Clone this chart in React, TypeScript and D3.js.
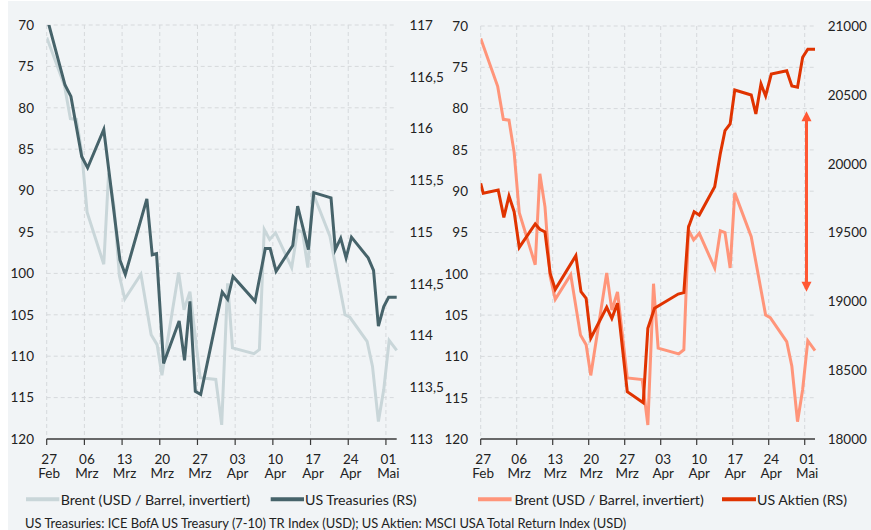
import React from "react";
import * as d3 from "d3";

// ---- Data (day offsets since 27 Feb 2025) ----
const tickDays = [0, 7, 14, 21, 28, 35, 42, 49, 56, 63];
const tickDayLabels = ["27", "06", "13", "20", "27", "03", "10", "17", "24", "01"];
const tickMonthLabels = ["Feb", "Mrz", "Mrz", "Mrz", "Mrz", "Apr", "Apr", "Apr", "Apr", "Mai"];

const brentTicks = [70, 75, 80, 85, 90, 95, 100, 105, 110, 115, 120];
const treasuryTicks = [113, 113.5, 114, 114.5, 115, 115.5, 116, 116.5, 117];
const aktienTicks = [18000, 18500, 19000, 19500, 20000, 20500, 21000];

const brentDays = [0, 3.3, 4.4, 5.5, 6.5, 7.5, 10.6, 11.5, 12.5, 13.5, 14.5, 17.5, 19.4, 20.5, 21.4, 24.5, 25.5, 26.6, 28.5, 31.4, 32.5, 33.6, 34.5, 38.5, 39.5, 40.4, 41.4, 42.5, 45.5, 46.6, 47.5, 48.5, 49.4, 52.6, 55.4, 56.3, 59.5, 60.5, 61.6, 62.6, 63.6, 65];
const brentValues = [71.5, 77.3, 81.3, 81.4, 85.3, 92.6, 98.9, 87.9, 91.9, 100.3, 103.1, 100.1, 107.4, 108.6, 112.3, 99.9, 104.4, 102.2, 112.6, 112.8, 118.3, 101.2, 109.0, 109.7, 109.2, 94.7, 95.9, 95.1, 99.3, 94.8, 95.0, 99.3, 90.2, 95.5, 105.0, 105.3, 108.2, 111.2, 117.9, 114.0, 108.1, 109.3];

const treasuryDays = [0, 3.4, 4.5, 6.5, 7.6, 10.6, 13.6, 14.6, 18.6, 19.6, 20.4, 21.7, 24.6, 25.6, 26.6, 27.6, 28.6, 31.3, 32.6, 33.6, 34.6, 38.7, 40.6, 41.5, 42.6, 45.7, 46.6, 48.6, 49.6, 52.8, 53.6, 54.6, 55.6, 56.6, 59.7, 60.7, 61.6, 62.6, 63.5, 65];
const treasuryValues = [117.08, 116.42, 116.31, 115.73, 115.62, 115.99, 114.73, 114.59, 115.32, 114.78, 114.79, 113.73, 114.14, 113.76, 114.33, 113.46, 113.43, 114.1, 114.42, 114.35, 114.57, 114.33, 114.84, 114.84, 114.62, 114.87, 115.25, 114.83, 115.38, 115.33, 114.83, 114.94, 114.75, 114.95, 114.75, 114.63, 114.09, 114.28, 114.37, 114.37];

const aktienDays = [0, 0.5, 3.4, 4.5, 5.5, 6.5, 7.5, 10.6, 11.5, 12.5, 13.5, 14.5, 18.5, 19.5, 20.5, 21.4, 24.5, 25.5, 26.6, 28.5, 31.6, 32.5, 33.8, 38.4, 39.5, 40.4, 41.5, 42.5, 45.5, 46.6, 47.5, 48.5, 49.4, 52.6, 53.5, 54.5, 55.4, 56.5, 59.5, 60.5, 61.6, 62.6, 63.6, 65];
const aktienValues = [19857, 19785, 19809, 19610, 19765, 19651, 19392, 19562, 19523, 19504, 19204, 19087, 19332, 19070, 19022, 18732, 18957, 18877, 18986, 18344, 18264, 18804, 18950, 19053, 19063, 19538, 19651, 19627, 19833, 20075, 20240, 20288, 20535, 20499, 20361, 20579, 20492, 20651, 20675, 20564, 20555, 20773, 20831, 20831];

const arrowRange = [20380, 19070];
const arrowDay = 63;

const footnote = "US Treasuries: ICE  BofA US Treasury (7-10) TR Index (USD); US Aktien: MSCI USA Total Return Index (USD)";

const FONT = "Lato, 'Open Sans', sans-serif";
const C = {
  bg: "#f1f4f6",
  grid: "#d6d9dc",
  axis: "#3a3a3a",
  text: "#222",
  brentLight: "#c9d6d9",
  treasury: "#46636a",
  brentSalmon: "#ff957a",
  aktien: "#e03300",
  arrow: "#ff5733",
};

const fmtDe = (v: number) => String(v).replace(".", ",");

type PanelProps = {
  id: string;
  x0: number;
  x1: number;
  yTop: number;
  yBot: number;
  rightTicks: number[];
  rightDomain: [number, number];
  brentColor: string;
  mainColor: string;
  mainDays: number[];
  mainValues: number[];
  arrow?: boolean;
  legend: { swatch: [number, number]; textX: number; label: string; color: string }[];
};

function Panel(p: PanelProps) {
  const x = d3.scaleLinear().domain([0, 65]).range([p.x0, p.x1]);
  const yL = d3.scaleLinear().domain([70, 120]).range([p.yTop, p.yBot]);
  const yR = d3.scaleLinear().domain(p.rightDomain).range([p.yBot, p.yTop]);
  const brentPts = brentDays.map((d, i) => [d, brentValues[i]] as [number, number]);
  const mainPts = p.mainDays.map((d, i) => [d, p.mainValues[i]] as [number, number]);
  const lineL = d3.line<[number, number]>().x((d) => x(d[0])).y((d) => yL(d[1]));
  const lineR = d3.line<[number, number]>().x((d) => x(d[0])).y((d) => yR(d[1]));
  const ax = x(arrowDay + 0.35);
  const aTop = yR(arrowRange[0]);
  const aBot = yR(arrowRange[1]);
  return (
    <g>
      <defs>
        <clipPath id={"clip-" + p.id}>
          <rect x={p.x0} y={p.yTop} width={p.x1 - p.x0 + 2} height={p.yBot - p.yTop} />
        </clipPath>
      </defs>
      {brentTicks.slice(0, -1).map((t) => (
        <line key={"h" + t} x1={p.x0} x2={p.x1} y1={yL(t)} y2={yL(t)} stroke={C.grid} strokeWidth={1} strokeDasharray="4,3" />
      ))}
      {tickDays.map((t) => (
        <line key={"v" + t} x1={x(t)} x2={x(t)} y1={p.yTop} y2={p.yBot} stroke={C.grid} strokeWidth={1} strokeDasharray="4,3" />
      ))}
      <line x1={p.x0} x2={p.x1} y1={p.yBot} y2={p.yBot} stroke={C.axis} strokeWidth={1.5} />
      {tickDays.map((t) => (
        <line key={"t" + t} x1={x(t)} x2={x(t)} y1={p.yBot} y2={p.yBot + 6} stroke={C.axis} strokeWidth={1.2} />
      ))}
      {tickDays.map((t, i) => (
        <g key={"l" + t} fontFamily={FONT} fontSize={13.5} fill={C.text} textAnchor="middle">
          <text x={x(t) + 2.5} y={463.5}>{tickDayLabels[i]}</text>
          <text x={x(t) + 2.5} y={478}>{tickMonthLabels[i]}</text>
        </g>
      ))}
      {brentTicks.map((t) => (
        <text key={"yl" + t} x={p.x0 - 12.7} y={yL(t)} dy="0.36em" textAnchor="end" fontFamily={FONT} fontSize={13.5} fill={C.text}>
          {t}
        </text>
      ))}
      {p.rightTicks.map((t) => (
        <text key={"yr" + t} x={p.x1 + 12.7} y={yR(t)} dy="0.36em" textAnchor="start" fontFamily={FONT} fontSize={13.5} fill={C.text}>
          {fmtDe(t)}
        </text>
      ))}
      <g clipPath={`url(#clip-${p.id})`}>
        <path d={lineL(brentPts) || ""} fill="none" stroke={p.brentColor} strokeWidth={3} strokeLinejoin="miter" />
        <path d={lineR(mainPts) || ""} fill="none" stroke={p.mainColor} strokeWidth={3} strokeLinejoin="miter" />
      </g>
      {p.arrow && (
        <g>
          <line x1={ax} x2={ax} y1={aTop + 8} y2={aBot - 8} stroke={C.arrow} strokeWidth={3} />
          <path d={`M${ax},${aTop} L${ax - 5},${aTop + 10} L${ax + 5},${aTop + 10} Z`} fill={C.arrow} />
          <path d={`M${ax},${aBot} L${ax - 5},${aBot - 10} L${ax + 5},${aBot - 10} Z`} fill={C.arrow} />
        </g>
      )}
      {p.legend.map((l) => (
        <g key={l.label}>
          <line x1={l.swatch[0]} x2={l.swatch[1]} y1={499.3} y2={499.3} stroke={l.color} strokeWidth={4} />
          <text x={l.textX} y={505} fontFamily={FONT} fontSize={14.2} fill={C.text}>
            {l.label}
          </text>
        </g>
      ))}
    </g>
  );
}

export default function App() {
  return (
    <svg width={871} height={530} style={{ display: "block" }}>
      <style>{"body{margin:0}"}</style>
      <rect x={8} y={1} width={863} height={529} fill={C.bg} />
      <Panel
        id="left"
        x0={46.7}
        x1={396.7}
        yTop={25}
        yBot={439}
        rightTicks={treasuryTicks}
        rightDomain={[113, 117]}
        brentColor={C.brentLight}
        mainColor={C.treasury}
        mainDays={treasuryDays}
        mainValues={treasuryValues}
        legend={[
          { swatch: [26, 59.3], textX: 60.7, label: "Brent (USD / Barrel, invertiert)", color: C.brentLight },
          { swatch: [270.7, 304], textX: 305, label: "US Treasuries (RS)", color: C.treasury },
        ]}
      />
      <Panel
        id="right"
        x0={480.7}
        x1={815}
        yTop={26}
        yBot={439}
        rightTicks={aktienTicks}
        rightDomain={[18000, 21000]}
        brentColor={C.brentSalmon}
        mainColor={C.aktien}
        mainDays={aktienDays}
        mainValues={aktienValues}
        arrow
        legend={[
          { swatch: [478, 511.6], textX: 514.4, label: "Brent (USD / Barrel, invertiert)", color: C.brentSalmon },
          { swatch: [722, 756], textX: 757, label: "US Aktien (RS)", color: C.aktien },
        ]}
      />
      <text x={25} y={527.5} fontFamily={FONT} fontSize={12.9} fill={C.text}>
        {footnote}
      </text>
    </svg>
  );
}
